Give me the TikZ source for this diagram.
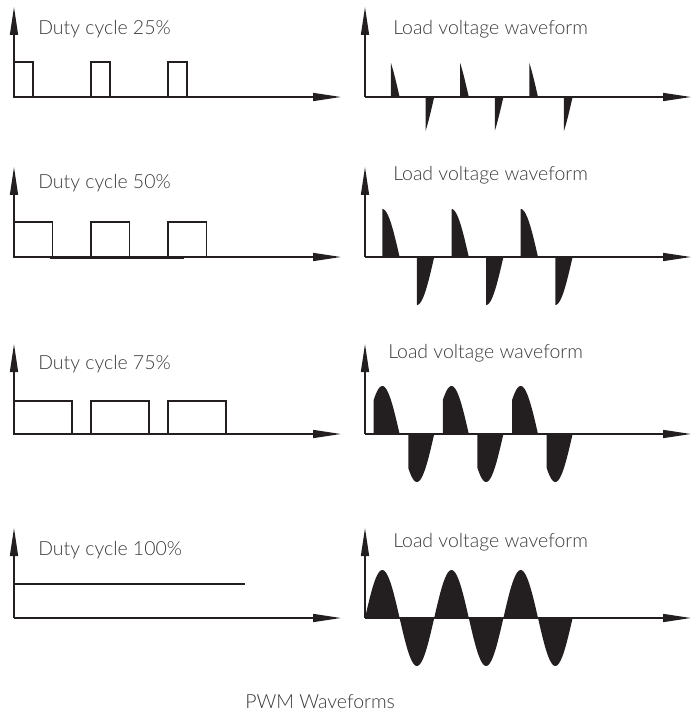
\documentclass[tikz,border=0pt]{standalone}
\usepackage{fontspec}
\setmainfont{Lato}[UprightFont=* Light]
\usetikzlibrary{arrows.meta,positioning}
\definecolor{ink}{HTML}{231F20}
\definecolor{labelgray}{HTML}{3A3A3A}
\tikzstyle{axis}=[line width=1.1pt, draw=ink, -{Triangle[length=21pt,width=6pt]}]
\tikzstyle{wave}=[line width=1.1pt, draw=ink]
\tikzstyle{caption}=[anchor=base west, inner sep=0pt, text=labelgray, font=\fontsize{14.6}{17}\selectfont]

\begin{document}
\begin{tikzpicture}[x=0.75pt, y=-0.75pt]
    \useasboundingbox (0,0) rectangle (696,716);

    % axes, one pair per row
    \foreach \r/\base in {1/97, 2/257, 3/434, 4/618}{
        \coordinate (ol\r) at (14,\base);
        \coordinate (yl\r) at (14,\base-90);
        \coordinate (xl\r) at (341,\base);
        \coordinate (or\r) at (365,\base);
        \coordinate (yr\r) at (365,\base-90);
        \coordinate (xr\r) at (691,\base);
        \draw[axis](ol\r) -- (yl\r);
        \draw[axis](ol\r) -- (xl\r);
        \draw[axis](or\r) -- (yr\r);
        \draw[axis](or\r) -- (xr\r);
    }

    % PWM pulses
    \foreach \base/\w/\h in {97/19/35, 257/38.5/35, 434/58/33}{
        \foreach \k in {0,1,2}{
            \draw[wave](14+77*\k,\base) rectangle ++(\w,-\h);
        }
    }
    \draw[line width=1.4pt, draw=ink](50,258) -- (184,258);
    \draw[wave](ol4 |- 0,584) -- (245,584);

    % load voltage, last part of every half wave
    \foreach \base/\s in {97/0.75, 257/0.5, 434/0.25, 618/0}{
        \foreach \k [evaluate=\k as \xs using 365+(\k+\s)*34.6,
                     evaluate=\k as \xe using 365+(\k+1)*34.6] in {0,...,5}{
            \fill[ink](\xs,\base) -- plot[domain=\xs:\xe, samples=24, smooth]
                (\x,{\base-48*sin((\x-365)/34.6*180)}) -- (\xe,\base) -- cycle;
        }
    }

    \node[caption](duty25) at (38,35){Duty cycle 25\%};
    \node[caption](duty50) at (38,189){Duty cycle 50\%};
    \node[caption](duty75) at (38,369){Duty cycle 75\%};
    \node[caption](duty100) at (38,555){Duty cycle 100\%};

    \node[caption](load25) at (393,35){Load voltage waveform};
    \node[caption](load50) at (393,181){Load voltage waveform};
    \node[caption](load75) at (388,358){Load voltage waveform};
    \node[caption](load100) at (393,547){Load voltage waveform};

    \node[caption](title) at (245,708){PWM Waveforms};
  \end{tikzpicture}
\end{document}
